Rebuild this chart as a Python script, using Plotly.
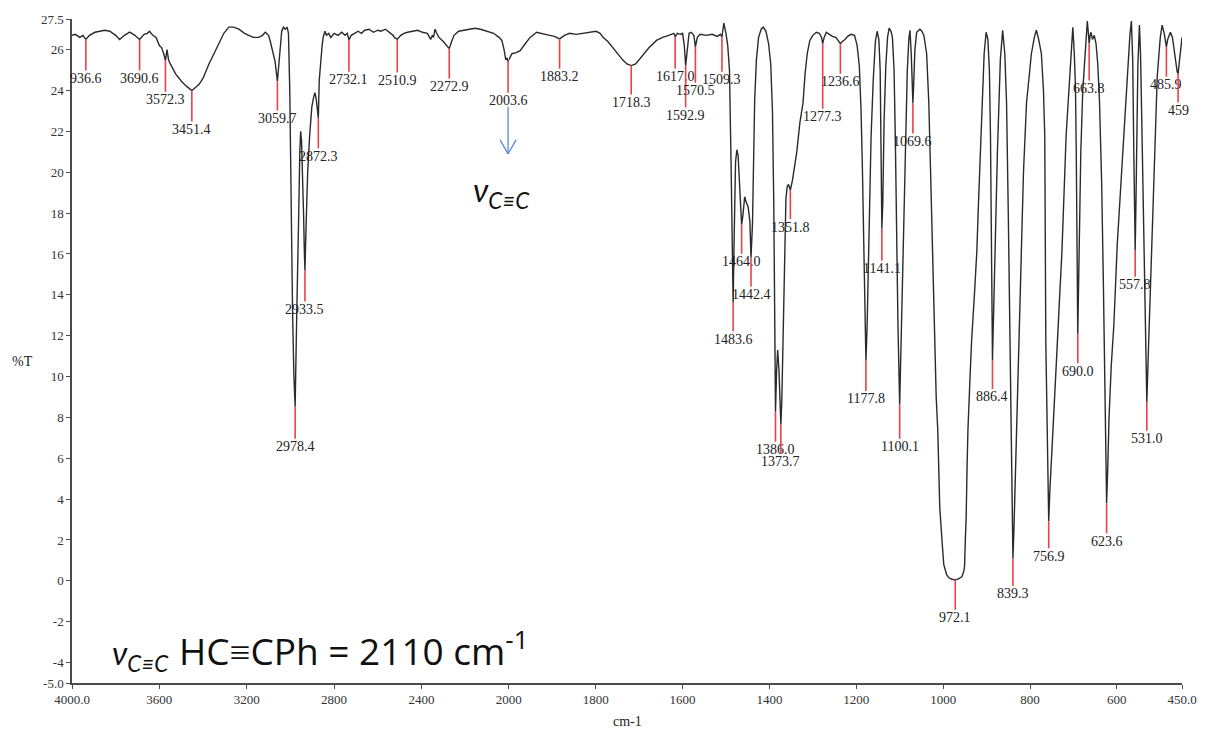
import plotly.graph_objects as go

# ---- IR spectrum: wavenumber (cm-1) and transmittance (%T) ----
wavenumber = [
    4000, 3985, 3964, 3950, 3936.6, 3920, 3895, 3873, 3850, 3827, 3800, 3782, 3760, 3736,
    3712, 3690.6, 3670, 3655, 3645, 3630, 3615, 3600, 3590, 3580, 3572.3, 3565, 3558, 3550,
    3541, 3525, 3510, 3495, 3475, 3460, 3451.4, 3440, 3418, 3400, 3385, 3373, 3350, 3327,
    3305, 3282, 3260, 3236, 3210, 3191, 3170, 3145, 3128, 3115, 3100, 3092, 3080, 3070,
    3059.7, 3052, 3045, 3040, 3032, 3024, 3015, 3009, 3003, 2997, 2990, 2984, 2978.4, 2972,
    2968, 2962, 2957, 2953, 2949, 2944, 2940, 2936, 2933.5, 2928, 2921, 2912, 2902, 2895,
    2888, 2882, 2877, 2872.3, 2868, 2862, 2855, 2850, 2842, 2835, 2825, 2815, 2800, 2782,
    2765, 2750, 2740, 2732.1, 2722, 2706, 2690, 2675, 2660, 2640, 2620, 2600, 2586, 2565,
    2545, 2530, 2524, 2510.9, 2495, 2480, 2464, 2440, 2418, 2395, 2373, 2358, 2350, 2345,
    2338, 2330, 2320, 2300, 2285, 2272.9, 2262, 2251, 2230, 2206, 2180, 2155, 2130, 2100,
    2070, 2045, 2032, 2022, 2014, 2008, 2003.6, 2000,
    1993, 1983, 1974, 1962, 1951, 1936, 1920, 1906, 1895, 1883.2, 1872, 1860, 1845, 1829,
    1812, 1799, 1790, 1783, 1772, 1761, 1750, 1738, 1728, 1718.3, 1708, 1700, 1688, 1677,
    1660, 1646, 1632, 1620, 1617.0, 1612, 1605, 1600, 1596, 1592.9, 1589, 1585, 1580, 1574,
    1570.5, 1566, 1560, 1545, 1532, 1520, 1513, 1509.3, 1505, 1500, 1496, 1492, 1488, 1485,
    1483.6, 1481, 1478, 1475, 1472, 1469, 1466, 1464.0, 1461, 1457, 1453, 1449, 1445, 1442.4,
    1439, 1437, 1434, 1430, 1425, 1419, 1414, 1408, 1402, 1397, 1393, 1390, 1388, 1386.0,
    1383.5, 1381, 1378, 1375.5, 1373.7, 1371.5, 1369.5, 1367.5, 1365, 1362, 1359, 1356,
    1351.8, 1347, 1342, 1337, 1330, 1322.6, 1318, 1313, 1307, 1300, 1292, 1285, 1280, 1277.3,
    1274, 1269, 1262, 1255, 1247, 1240, 1236.6, 1232, 1226, 1220, 1212, 1204, 1198, 1193,
    1189, 1186, 1183.5, 1181, 1177.8, 1175, 1172, 1169, 1166, 1161, 1156, 1152, 1148, 1145,
    1143, 1141.1, 1139, 1136, 1132, 1128, 1124.4, 1120, 1116.8, 1113, 1110, 1107, 1104,
    1100.1, 1097.5, 1094, 1090, 1086, 1082.5, 1079, 1076.4, 1073.4, 1071, 1069.6, 1067.5,
    1065, 1061, 1057, 1053.5, 1049, 1044.4, 1038, 1033, 1029, 1024.3, 1020.4, 1016, 1012.4,
    1007.8, 1002.5, 998.6, 992, 987, 980, 972.1, 965, 956.8, 952, 950.6, 949, 947, 945,
    942.9, 938, 934.6, 928, 922.5, 918.6, 911, 905.6, 901, 897, 893.5, 891, 889, 887.5,
    886.4, 884.5, 882, 875, 868.3, 863, 858, 854, 850, 846.5, 844, 842, 839.3, 837, 834,
    829.5, 825, 820.3, 815, 808, 801, 796.8, 790, 785.3, 780, 773.8, 769, 766, 763.6, 760.5,
    758.5, 756.9, 754.5, 751.7, 745, 738.8, 732, 726.5, 716.8, 710, 705.3, 701.4, 698, 695.3,
    693.5, 692, 690.0, 688.5, 686.5, 683, 678.5, 674, 670, 668, 666, 663.8, 661.5, 659.5,
    656, 652, 648, 644, 640, 635, 631, 628, 626, 623.6, 621, 618, 613, 607, 599, 590, 582,
    575.7, 570, 566.5, 563.5, 561, 559.5, 557.8, 556, 554, 551.6, 548, 545.5, 543, 539.5,
    536, 533.5, 531.0, 528.5, 525, 520, 514, 507, 500, 495.7, 491, 488, 485.9, 483, 479,
    476.7, 472, 468, 464, 461, 459, 456.5, 454, 451.5, 450,
]
transmittance = [
    26.7, 26.75, 26.6, 26.7, 26.5, 26.7, 26.85, 26.9, 26.95, 26.9, 26.7, 26.5, 26.7, 26.86,
    26.7, 26.5, 26.75, 26.8, 26.9, 26.7, 26.6, 26.2, 26.1, 25.8, 25.46, 26.0, 25.5, 25.3,
    25.1, 24.8, 24.6, 24.4, 24.2, 24.05, 24.0, 24.1, 24.3, 24.6, 25.0, 25.3, 25.8, 26.3,
    26.8, 27.1, 27.1, 27.0, 26.8, 26.7, 26.6, 26.6, 26.7, 26.85, 26.7, 26.4, 25.9, 25.4,
    24.44, 25.5, 26.6, 26.9, 27.1, 27.0, 27.1, 26.8, 24.0, 18.2, 13.0, 10.0, 8.52, 12.5,
    15.5, 18.0, 21.0, 22.0, 21.5, 20.0, 18.0, 16.0, 15.19, 17.5, 20.0, 21.8, 23.2, 23.6,
    23.9, 23.6, 23.0, 22.64, 24.5, 25.5, 26.2, 26.6, 26.9, 26.7, 26.8, 26.6, 26.8, 26.7,
    26.85, 26.7, 26.8, 26.48, 26.7, 26.8, 26.9, 26.8, 26.95, 27.0, 26.85, 26.95, 26.9, 27.0,
    26.85, 26.7, 26.6, 26.5, 26.7, 26.8, 26.85, 26.9, 26.95, 26.85, 26.8, 26.5, 26.7, 26.6,
    27.0, 26.8, 26.6, 26.4, 26.2, 26.05, 26.4, 26.7, 26.9, 26.95, 27.0, 27.05, 27.0, 26.9,
    26.8, 26.6, 26.45, 26.0, 25.5, 25.6, 25.41, 25.5,
    25.8, 25.85, 25.95, 26.3, 26.6, 26.85, 26.75, 26.7, 26.65, 26.53, 26.7, 26.8, 26.75, 26.8,
    26.85, 26.9, 26.8, 26.6, 26.4, 26.1, 25.8, 25.5, 25.3, 25.22, 25.3, 25.5, 25.8, 26.1,
    26.45, 26.6, 26.7, 26.8, 26.63, 26.8, 26.75, 26.8, 26.2, 25.22, 26.0, 26.8, 26.85, 26.7,
    26.14, 26.6, 26.75, 26.7, 26.75, 26.65, 26.75, 26.63, 27.3, 26.8, 26.2, 25.0, 20.0, 15.5,
    13.63, 17.0, 20.5, 21.1, 20.8, 19.5, 18.0, 17.43, 17.9, 18.8, 18.5, 18.3, 17.6, 15.82,
    17.5, 20.0, 23.5, 25.5, 26.6, 27.0, 27.1, 26.9, 26.3, 25.3, 23.0, 18.5, 13.0, 8.28,
    10.3, 11.3, 10.3, 8.5, 7.64, 8.8, 11.0, 13.5, 16.5, 18.7, 19.3, 19.4,
    19.13, 19.6, 20.3, 21.0, 22.4, 23.4, 24.8, 25.8, 26.45, 26.7, 26.85, 26.8, 26.6, 26.29,
    26.6, 26.85, 26.75, 26.65, 26.6, 26.4, 26.29, 26.4, 26.5, 26.65, 26.75, 26.7, 26.2, 25.2,
    23.0, 20.3, 17.5, 14.5, 10.81, 12.5, 16.0, 19.5, 21.7, 24.5, 26.4, 26.9, 26.5, 25.0,
    21.5, 17.23, 18.5, 22.5, 25.2, 26.6, 27.05, 26.9, 26.6, 25.0, 21.5, 16.5, 12.5,
    8.62, 11.0, 15.0, 18.5, 22.5, 25.0, 26.5, 26.95, 25.8, 24.5, 23.37, 24.5,
    26.0, 26.85, 26.95, 27.0, 26.9, 26.7, 25.8, 23.4, 20.1, 16.1, 11.7, 9.0, 7.4,
    3.6, 1.95, 0.8, 0.3, 0.15, 0.08, 0.05, 0.1, 0.2, 0.5, 0.75, 1.95, 3.1, 5.5,
    7.4, 10.0, 11.7, 14.0, 16.1, 18.5, 23.4, 25.8, 26.85, 26.5, 25.0, 21.8, 17.0, 13.0,
    10.81, 12.5, 15.0, 21.0, 25.5, 26.95, 25.8, 23.4, 18.0, 12.0, 7.0, 3.0, 1.12, 2.5, 5.0,
    8.0, 11.7, 16.1, 20.0, 23.4, 25.0, 25.8, 26.6, 26.95, 26.5, 25.8, 24.0, 21.8, 11.7, 6.5,
    4.3, 2.92, 4.3, 5.6, 8.5, 10.9, 13.8, 16.1, 21.8, 24.3, 25.8, 27.1, 25.8, 24.2,
    21.0, 17.5, 12.07, 14.0, 16.5, 21.0, 24.0, 25.6, 26.6, 27.4, 26.9, 26.3, 26.7, 26.85,
    26.5, 26.7, 26.3, 25.3, 23.5, 19.5, 14.5, 10.0, 7.0, 3.8, 5.5, 8.0, 10.5, 12.5, 16.5, 19.8, 22.8,
    24.9, 26.7, 27.4, 25.5, 21.0, 18.0, 16.16, 18.5, 22.0, 25.2, 27.2, 25.8, 23.0, 18.5,
    13.5, 10.5, 8.76, 10.5, 13.0, 16.0, 20.0, 24.7, 26.6, 27.2, 26.8, 26.4, 26.14, 26.5, 26.8,
    26.85, 26.6, 26.0, 25.3, 24.9, 24.83, 25.3, 25.9, 26.5, 26.6,
]

# ---- labelled bands ----
peak_wn = [3936.6, 3690.6, 3572.3, 3451.4, 3059.7, 2978.4, 2933.5, 2872.3, 2732.1, 2510.9,
           2272.9, 2003.6, 1883.2, 1718.3, 1617.0, 1592.9, 1570.5, 1509.3, 1483.6, 1464.0,
           1442.4, 1386.0, 1373.7, 1351.8, 1277.3, 1236.6, 1177.8, 1141.1, 1100.1, 1069.6,
           972.1, 886.4, 839.3, 756.9, 690.0, 663.8, 623.6, 557.8, 531.0, 485.9, 459]
peak_text = ["936.6", "3690.6", "3572.3", "3451.4", "3059.7", "2978.4", "2933.5", "2872.3",
             "2732.1", "2510.9", "2272.9", "2003.6", "1883.2", "1718.3", "1617.0", "1592.9",
             "1570.5", "1509.3", "1483.6", "1464.0", "1442.4", "1386.0", "1373.7", "1351.8",
             "1277.3", "1236.6", "1177.8", "1141.1", "1100.1", "1069.6", "972.1", "886.4",
             "839.3", "756.9", "690.0", "663.8", "623.6", "557.8", "531.0", "485.9", "459"]
# distance (px) from each band down to the centre of its label
label_drop = [39, 39, 39, 39, 37, 40, 39, 38, 40, 41, 38, 39, 38, 37, 40, 50, 44, 43, 37, 37,
              37, 38, 37, 37, 73, 38, 39, 40, 42, 38, 38, 37, 36, 35, 37, 45, 38, 34, 37, 38, 37]

# ---- axis ticks ----
hi_ticks = [4000, 3600, 3200, 2800, 2400]
hi_ticktext = ["4000.0", "3600", "3200", "2800", "2400"]
lo_ticks = [2000, 1800, 1600, 1400, 1200, 1000, 800, 600, 450]
lo_ticktext = ["2000", "1800", "1600", "1400", "1200", "1000", "800", "600", "450.0"]
y_ticks = [-5, -4, -2, 0, 2, 4, 6, 8, 10, 12, 14, 16, 18, 20, 22, 24, 26, 27.5]
y_ticktext = ["-5.0", "-4", "-2", "0", "2", "4", "6", "8", "10", "12", "14", "16", "18",
              "20", "22", "24", "26", "27.5"]

SPLIT = 2000          # scale changes at 2000 cm-1
LINE = "#2a2a2a"
RED = "#e8434b"
BLUE = "#5a8ad0"
AXIS = "#4a4a4a"
SERIF = "Liberation Serif"

hi = [(w, t) for w, t in zip(wavenumber, transmittance) if w >= SPLIT]
lo = [(w, t) for w, t in zip(wavenumber, transmittance) if w <= SPLIT]

fig = go.Figure()
fig.add_trace(go.Scatter(x=[p[0] for p in hi], y=[p[1] for p in hi], mode="lines",
                         line=dict(color=LINE, width=1.4), xaxis="x", yaxis="y",
                         showlegend=False, hoverinfo="skip"))
fig.add_trace(go.Scatter(x=[p[0] for p in lo], y=[p[1] for p in lo], mode="lines",
                         line=dict(color=LINE, width=1.4), xaxis="x2", yaxis="y",
                         showlegend=False, hoverinfo="skip"))

annotations = []
for wn, txt, drop in zip(peak_wn, peak_text, label_drop):
    t = transmittance[wavenumber.index(wn)]
    annotations.append(dict(
        x=wn, y=t, xref="x" if wn > SPLIT else "x2", yref="y",
        text=txt, showarrow=True, arrowhead=0, arrowwidth=1.6, arrowcolor=RED,
        ax=0, ay=drop, standoff=0, borderpad=0,
        font=dict(family=SERIF, size=14, color="#222222"),
    ))

# nu(C≡C) labels
NU = "<i>ν</i><sub><i>C≡C</i></sub>"
annotations.append(dict(
    x=0.3596, y=0.740, xref="paper", yref="paper", xanchor="left", yanchor="middle",
    text=NU, showarrow=False, font=dict(family="Lato", size=32, color="#111111"),
))
annotations.append(dict(
    x=0.034, y=0.042, xref="paper", yref="paper", xanchor="left", yanchor="middle",
    text=NU, showarrow=False, font=dict(family="Lato", size=32, color="#111111"),
))
annotations.append(dict(
    x=0.0948, y=0.052, xref="paper", yref="paper", xanchor="left", yanchor="middle",
    text="HC≡CPh = 2110 cm<sup>-1</sup>", showarrow=False,
    font=dict(family="Open Sans", size=37, color="#111111"),
))
# axis titles
annotations.append(dict(x=0.5, y=-0.058, xref="paper", yref="paper", text="cm-1",
                        xanchor="center", yanchor="middle", showarrow=False,
                        font=dict(family=SERIF, size=14, color="#222222")))
annotations.append(dict(x=-0.0447, y=0.4835, xref="paper", yref="paper", text="%T",
                        xanchor="center", yanchor="middle", showarrow=False,
                        font=dict(family=SERIF, size=14, color="#222222")))

# blue arrow under the 2003.6 band (shaft + open head), sized in pixels
arrow_x = (511.2 - 72) / (1190 - 72)
arrow_tip = 20.9
arrow_segments = [(0, 47, 0, 0), (-8, 14, 0, 0), (8, 14, 0, 0)]
shapes = [dict(type="line", xref="paper", yref="y", xsizemode="pixel", ysizemode="pixel",
               xanchor=arrow_x, yanchor=arrow_tip, x0=a, y0=b, x1=c, y1=d,
               line=dict(color=BLUE, width=1.3))
          for a, b, c, d in arrow_segments]

left_frac = (512 - 72) / (1190 - 72)
tickfont = dict(family=SERIF, size=13, color="#333333")
xcommon = dict(showline=True, linecolor=AXIS, linewidth=1.5, ticks="outside", ticklen=4,
               tickcolor=AXIS, showgrid=False, zeroline=False, tickfont=tickfont,
               anchor="y", fixedrange=True)

fig.update_layout(
    width=1209, height=732,
    margin=dict(l=72, r=19, t=15, b=49),
    paper_bgcolor="white", plot_bgcolor="white",
    xaxis=dict(domain=[0, left_frac], range=[4000, SPLIT], tickvals=hi_ticks,
               ticktext=hi_ticktext, **xcommon),
    xaxis2=dict(domain=[left_frac, 1], range=[SPLIT, 450], tickvals=lo_ticks,
                ticktext=lo_ticktext, **xcommon),
    yaxis=dict(range=[-5, 27.5], tickvals=y_ticks, ticktext=y_ticktext, showline=True,
               linecolor=AXIS, linewidth=1.5, ticks="outside", ticklen=4, tickcolor=AXIS,
               showgrid=False, zeroline=False, tickfont=tickfont, anchor="x"),
    annotations=annotations,
    shapes=shapes,
)

fig.write_html("out.html")
